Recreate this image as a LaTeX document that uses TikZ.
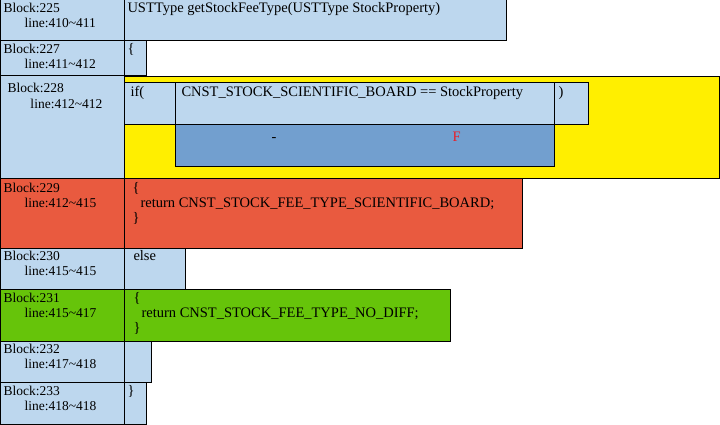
\documentclass[tikz,border=0pt]{standalone}
\usepackage{fontspec}
\setmainfont{Liberation Serif}
\usepackage{xcolor}
\definecolor{cellblue}{HTML}{BDD7EE}
\definecolor{condblue}{HTML}{729FCF}
\definecolor{ifyellow}{HTML}{FFEF00}
\definecolor{truered}{HTML}{E95A3F}
\definecolor{falsegreen}{HTML}{66C40A}
\definecolor{flagred}{HTML}{E8202A}

\begin{document}
\begin{tikzpicture}[x=1pt,y=-1pt,line width=1pt,
  font=\fontsize{13.5}{15}\selectfont,
  txt/.style={anchor=base west,inner sep=0pt},
  code/.style={txt,font=\fontsize{14.5}{15}\selectfont}]
  \useasboundingbox (0,0) rectangle (720,425);
  % left column
  \draw[fill=cellblue] (0,0) rectangle (124,41);
  \draw[fill=cellblue] (0,41) rectangle (124,76);
  \draw[fill=cellblue] (0,76) rectangle (124,178);
  \draw[fill=truered] (0,178) rectangle (124,248);
  \draw[fill=cellblue] (0,248) rectangle (124,289);
  \draw[fill=falsegreen] (0,289) rectangle (124,341);
  \draw[fill=cellblue] (0,341) rectangle (124,382);
  \draw[fill=cellblue] (0,382) rectangle (124,424);
  % code column
  \draw[fill=cellblue] (124,0) rectangle (506,41);
  \draw[fill=cellblue] (124,41) rectangle (146,76);
  \draw[fill=ifyellow] (124,77) rectangle (719,178);
  \draw[fill=cellblue] (124,83) rectangle (175,125);
  \draw[fill=cellblue] (175,83) rectangle (554,125);
  \draw[fill=cellblue] (554,83) rectangle (588,125);
  \draw[fill=condblue] (175,125) rectangle (554,166);
  \draw[fill=truered] (124,178) rectangle (522,248);
  \draw[fill=cellblue] (124,248) rectangle (185,289);
  \draw[fill=falsegreen] (124,289) rectangle (450,341);
  \draw[fill=cellblue] (124,341) rectangle (151,382);
  \draw[fill=cellblue] (124,382) rectangle (146,424);

  % block labels
  \node[txt] (b225) at (3,13) {Block:225};
  \node[txt] (l225) at (24,28) {line:410\textasciitilde411};
  \node[txt] (b227) at (3,54) {Block:227};
  \node[txt] (l227) at (24,69) {line:411\textasciitilde412};
  \node[txt] (b228) at (7,93) {Block:228};
  \node[txt] (l228) at (30,109) {line:412\textasciitilde412};
  \node[txt] (b229) at (3,192) {Block:229};
  \node[txt] (l229) at (24,207) {line:412\textasciitilde415};
  \node[txt] (b230) at (3,260) {Block:230};
  \node[txt] (l230) at (24,275) {line:415\textasciitilde415};
  \node[txt] (b231) at (3,302) {Block:231};
  \node[txt] (l231) at (24,317) {line:415\textasciitilde417};
  \node[txt] (b232) at (3,353) {Block:232};
  \node[txt] (l232) at (24,368) {line:417\textasciitilde418};
  \node[txt] (b233) at (3,395) {Block:233};
  \node[txt] (l233) at (24,410) {line:418\textasciitilde418};

  % code texts
  \node[code] (c225) at (127,13) {USTType getStockFeeType(USTType StockProperty)};
  \node[code] (c227) at (127,54) {\{};
  \node[code] (cif) at (130,97) {if(};
  \node[code] (ccond) at (181,97) {CNST\_STOCK\_SCIENTIFIC\_BOARD == StockProperty};
  \node[code] (cclose) at (558,97) {)};
  \node[code] (cdash) at (271,142) {-};
  \node[code,text=flagred] (cflag) at (452,142) {F};
  \node[code] (c229a) at (132,192) {\{};
  \node[code] (c229b) at (140,207) {return CNST\_STOCK\_FEE\_TYPE\_SCIENTIFIC\_BOARD;};
  \node[code] (c229c) at (132,222) {\}};
  \node[code] (c230) at (133,260) {else};
  \node[code] (c231a) at (133,302) {\{};
  \node[code] (c231b) at (141,317) {return CNST\_STOCK\_FEE\_TYPE\_NO\_DIFF;};
  \node[code] (c231c) at (133,332) {\}};
  \node[code] (c233) at (127,395) {\}};
\end{tikzpicture}
\end{document}
